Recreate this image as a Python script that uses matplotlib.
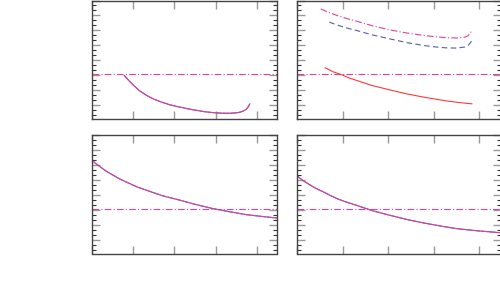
import matplotlib
matplotlib.use("Agg")
import matplotlib.pyplot as plt
from matplotlib.ticker import MultipleLocator, NullFormatter

# ---- data (arbitrary units) ----
tl_x = [0.79, 0.90, 1.00, 1.15, 1.33, 1.50, 1.70, 1.90, 2.14, 2.35, 2.55, 2.75, 2.99, 3.15, 3.27, 3.40, 3.50, 3.60, 3.67, 3.73, 3.78, 3.83]
tl_y = [2.00, 1.66, 1.38, 1.00, 0.67, 0.43, 0.22, 0.04, -0.11, -0.23, -0.33, -0.42, -0.49, -0.51, -0.52, -0.51, -0.49, -0.44, -0.37, -0.28, -0.14, 0.11]

tr_pink_x = [0.52, 0.70, 0.90, 1.10, 1.31, 1.65, 2.04, 2.40, 2.78, 3.05, 3.29, 3.50, 3.69, 3.76, 3.80, 3.84]
tr_pink_y = [6.44, 6.20, 5.98, 5.79, 5.62, 5.32, 5.04, 4.84, 4.67, 4.58, 4.52, 4.50, 4.56, 4.66, 4.80, 5.00]
tr_blue_x = [0.71, 0.85, 1.00, 1.15, 1.31, 1.65, 2.04, 2.40, 2.78, 3.05, 3.29, 3.50, 3.69, 3.76, 3.80, 3.84]
tr_blue_y = [5.56, 5.40, 5.25, 5.12, 5.00, 4.71, 4.44, 4.20, 4.00, 3.90, 3.84, 3.83, 3.90, 4.02, 4.15, 4.33]
tr_red_x = [0.62, 0.80, 1.00, 1.15, 1.31, 1.65, 2.04, 2.40, 2.78, 3.05, 3.30, 3.55, 3.84]
tr_red_y = [2.51, 2.24, 2.03, 1.83, 1.67, 1.33, 1.04, 0.78, 0.56, 0.42, 0.30, 0.20, 0.11]

bl_x = [0.00, 0.10, 0.20, 0.35, 0.52, 0.70, 0.90, 1.10, 1.33, 1.70, 2.14, 2.50, 2.94, 3.35, 3.75, 4.10, 4.48]
bl_y = [5.33, 5.10, 4.90, 4.60, 4.33, 4.05, 3.80, 3.55, 3.33, 2.98, 2.67, 2.40, 2.11, 1.90, 1.71, 1.60, 1.49]

br_x = [0.00, 0.10, 0.25, 0.40, 0.58, 0.75, 0.90, 1.10, 1.31, 1.65, 2.04, 2.40, 2.78, 3.15, 3.51, 4.00, 4.48]
br_y = [4.29, 4.05, 3.75, 3.48, 3.22, 2.96, 2.75, 2.53, 2.33, 1.98, 1.67, 1.40, 1.16, 0.96, 0.78, 0.63, 0.51]

ref_level = 2.11

PINK = "#e0409c"
BLUE = "#5a5aaa"
RED = "#ff3838"

fig = plt.figure(figsize=(5, 3), dpi=100)

W, H = 500.0, 300.0
def ax_at(x0, y0, x1, y1):
    return fig.add_axes([x0 / W, 1 - y1 / H, (x1 - x0) / W, (y1 - y0) / H])

ax_tl = ax_at(91.7, 0.5, 276.7, 118.5)
ax_tr = ax_at(297.0, 0.5, 501.0, 118.5)
ax_bl = ax_at(91.7, 135.0, 276.7, 253.5)
ax_br = ax_at(297.0, 135.0, 501.0, 253.5)

for ax in (ax_tl, ax_tr, ax_bl, ax_br):
    ax.set_xlim(0, 4.48)
    ax.set_ylim(-0.867, 7.0)
    ax.xaxis.set_major_locator(MultipleLocator(1))
    ax.yaxis.set_major_locator(MultipleLocator(1))
    ax.yaxis.set_minor_locator(MultipleLocator(1 / 3))
    ax.xaxis.set_major_formatter(NullFormatter())
    ax.yaxis.set_major_formatter(NullFormatter())
    ax.tick_params(which="major", direction="in", top=True, right=True,
                   length=5.8, width=1.0, color="#999999")
    ax.tick_params(which="minor", direction="in", top=True, right=True,
                   length=2.9, width=0.8, color="#333333")
    for s in ax.spines.values():
        s.set_color("#444444")
        s.set_linewidth(1.0)
    ax.axhline(ref_level, color=PINK, lw=0.8, ls=(0, (6, 2, 1, 2)))

def overlap(ax, x, y):
    ax.plot(x, y, color=BLUE, lw=0.8)
    ax.plot(x, y, color=PINK, lw=0.8, ls=(0, (6, 1)))

overlap(ax_tl, tl_x, tl_y)

ax_tr.plot(tr_pink_x, tr_pink_y, color=PINK, lw=0.8, ls=(0, (6, 2, 1, 2)))
ax_tr.plot(tr_blue_x, tr_blue_y, color=BLUE, lw=0.8, ls=(0, (5, 3)))
ax_tr.plot(tr_red_x, tr_red_y, color=RED, lw=0.8)

overlap(ax_bl, bl_x, bl_y)
overlap(ax_br, br_x, br_y)

fig.savefig("out.png", dpi=100)
